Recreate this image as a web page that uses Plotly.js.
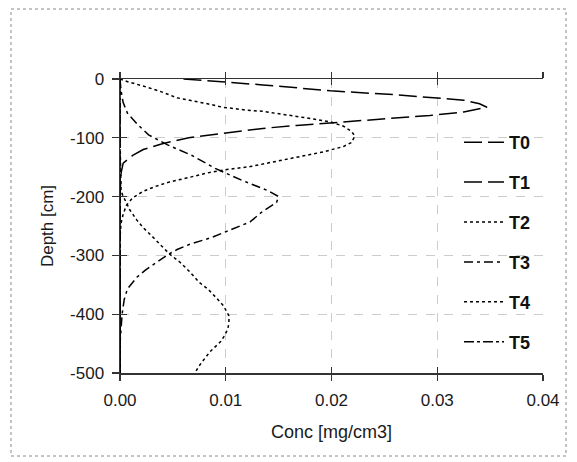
<!DOCTYPE html>
<html>
<head>
<meta charset="utf-8">
<script src="https://cdn.plot.ly/plotly-3.0.1.min.js"></script>
<style>
  html, body { margin: 0; padding: 0; background: #ffffff; }
  #chart { width: 577px; height: 462px; }
</style>
</head>
<body>
<div id="chart"></div>
<script>
// ---- data (depth in cm, concentration in mg/cm3) ----
const seriesNames = ["T0", "T1", "T2", "T3", "T4", "T5"];

const depthT0 = [0, -100, -200, -300, -400, -500];
const concT0  = [0, 0, 0, 0, 0, 0];

const depthT1 = [0, -3, -10, -20, -27, -36, -42, -48, -56, -62, -66, -71, -75, -79, -84, -90, -95, -100, -110, -120, -130, -143, -160, -200, -300, -400, -500];
const concT1  = [0.0060, 0.0085, 0.0135, 0.0199, 0.0262, 0.0325, 0.0340, 0.0347, 0.0325, 0.0293, 0.0262, 0.0230, 0.0199, 0.0167, 0.0135, 0.0110, 0.0085, 0.0065, 0.0040, 0.0022, 0.0012, 0.0003, 0.0001, 0, 0, 0, 0];

const depthT2 = [0, -5, -12, -21, -32, -37, -43, -48, -50, -53, -55, -59, -63, -68, -73, -80, -89, -97, -108, -115, -124, -132, -140, -149, -154, -160, -168, -175, -183, -191, -202, -215, -230, -245, -270, -300, -400, -500];
const concT2  = [0, 0.0008, 0.0022, 0.0038, 0.0054, 0.0069, 0.0085, 0.0097, 0.0106, 0.0120, 0.0135, 0.0151, 0.0167, 0.0183, 0.0199, 0.0211, 0.0219, 0.0222, 0.0219, 0.0211, 0.0192, 0.0170, 0.0147, 0.0123, 0.0101, 0.0082, 0.0064, 0.0047, 0.0033, 0.0022, 0.0012, 0.0006, 0.0003, 0.0001, 0, 0, 0, 0];

const depthT3 = [0, -20, -40, -58, -78, -95, -112, -130, -152, -172, -190, -200, -210, -225, -243, -259, -270, -281, -290, -298, -312, -325, -337, -357, -375, -400, -450, -500];
const concT3  = [0, 0.0001, 0.0003, 0.0007, 0.0017, 0.0027, 0.0045, 0.0068, 0.0090, 0.0115, 0.0140, 0.0150, 0.0148, 0.0135, 0.0123, 0.0101, 0.0086, 0.0066, 0.0054, 0.0046, 0.0035, 0.0024, 0.0016, 0.0007, 0.0004, 0.0002, 0, 0];

const depthT4 = [0, -100, -190, -200, -210, -222, -240, -253, -265, -278, -290, -298, -312, -328, -346, -357, -372, -386, -403, -414, -425, -436, -447, -464, -478, -490, -500];
const concT4  = [0, 0, 0.0001, 0.0003, 0.0006, 0.0009, 0.0016, 0.0022, 0.0029, 0.0036, 0.0043, 0.0047, 0.0057, 0.0066, 0.0075, 0.0083, 0.0091, 0.0098, 0.0103, 0.0103, 0.0102, 0.0099, 0.0095, 0.0085, 0.0079, 0.0074, 0.0071];

const depthT5 = [0, -100, -200, -300, -400, -500];
const concT5  = [0, 0, 0, 0, 0, 0];

const xTickVals = [0, 0.01, 0.02, 0.03, 0.04];
const xTickText = ["0.00", "0.01", "0.02", "0.03", "0.04"];
const yTickVals = [0, -100, -200, -300, -400, -500];
const yTickText = ["0", "-100", "-200", "-300", "-400", "-500"];

const xTitle = "Conc [mg/cm3]";
const yTitle = "Depth [cm]";

// ---- styles ----
const dashes = ["18px,6px", "18px,6px", "3px,3px", "9px,4px,3px,4px", "3px,3px", "10px,3px,3px,3px"];
const depths = [depthT0, depthT1, depthT2, depthT3, depthT4, depthT5];
const concs  = [concT0, concT1, concT2, concT3, concT4, concT5];

const traces = seriesNames.map((name, i) => ({
  type: "scatter",
  mode: "lines",
  name: name,
  legendgroup: name,
  x: concs[i],
  y: depths[i],
  line: { color: "#000000", width: 1.5, dash: dashes[i] },
  hoverinfo: "skip"
}));

// helper trace for the overlay axes (empty)
traces.push({ type: "scatter", mode: "lines", x: [], y: [], xaxis: "x2", yaxis: "y2", showlegend: false, hoverinfo: "skip" });

// plot area pixel geometry
const W = 577, H = 462;
const L = 120, R = 543, T = 79, B = 373;
const pw = R - L, ph = B - T;
const px2x = p => (p - L) / pw;
const py2y = p => (B - p) / ph;

const font = { family: "Liberation Sans, Arial, sans-serif", color: "#1a1a1a" };

const layout = {
  width: W, height: H,
  margin: { l: L, r: W - R, t: T, b: H - B, pad: 0 },
  paper_bgcolor: "#ffffff",
  plot_bgcolor: "#ffffff",
  showlegend: true,
  font: Object.assign({ size: 17 }, font),
  xaxis: {
    range: [0, 0.04], autorange: false, fixedrange: true,
    tickvals: xTickVals, ticktext: xTickText,
    ticks: "outside", ticklen: 6, tickwidth: 1.3, tickcolor: "#333333",
    showline: true, linecolor: "#333333", linewidth: 1.5, mirror: "ticks",
    showgrid: true, gridcolor: "#cccccc", griddash: "dash", gridwidth: 1,
    zeroline: false,
    tickfont: Object.assign({ size: 17 }, font),
    ticklabelstandoff: 5,
    title: { text: xTitle, font: Object.assign({ size: 18 }, font), standoff: 16 },
    automargin: false
  },
  yaxis: {
    range: [-500, 0], autorange: false, fixedrange: true,
    tickvals: yTickVals, ticktext: yTickText,
    ticks: "outside", ticklen: 7, tickwidth: 1.3, tickcolor: "#333333",
    showline: true, linecolor: "#333333", linewidth: 1.5, mirror: false,
    showgrid: true, gridcolor: "#cccccc", griddash: "dash", gridwidth: 1,
    zeroline: false,
    tickfont: Object.assign({ size: 17 }, font),
    ticklabelstandoff: 4,
    title: { text: yTitle, font: Object.assign({ size: 17 }, font), standoff: 12 },
    automargin: false
  },
  xaxis2: {
    overlaying: "x", anchor: "y", matches: "x", range: [0, 0.04], fixedrange: true,
    tickvals: xTickVals, ticks: "inside", ticklen: 6, tickwidth: 1.3, tickcolor: "#333333",
    showline: false, mirror: "ticks", showgrid: false, zeroline: false, showticklabels: false
  },
  yaxis2: {
    overlaying: "y", anchor: "x", matches: "y", range: [-500, 0], fixedrange: true, side: "left",
    tickvals: yTickVals, ticks: "inside", ticklen: 7, tickwidth: 1.3, tickcolor: "#333333",
    showline: false, showgrid: false, zeroline: false, showticklabels: false
  },
  legend: {
    x: px2x(459), y: py2y(124), xanchor: "left", yanchor: "top",
    bgcolor: "rgba(0,0,0,0)", borderwidth: 0,
    font: { family: "Liberation Sans, Arial, sans-serif", size: 18, color: "#111111", weight: "bold" },
    tracegroupgap: 13.5,
    itemwidth: 40
  },
  shapes: [{
    type: "rect", xref: "paper", yref: "paper",
    x0: px2x(11), x1: px2x(566), y0: py2y(456), y1: py2y(9),
    line: { color: "#888888", width: 1, dash: "dot" },
    fillcolor: "rgba(0,0,0,0)", layer: "below"
  }]
};

Plotly.newPlot("chart", traces, layout, { staticPlot: true, displayModeBar: false });
</script>
</body>
</html>
